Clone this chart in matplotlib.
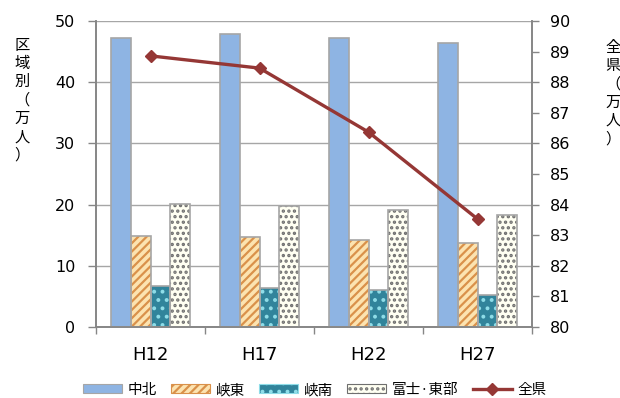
import matplotlib
matplotlib.use("Agg")
import matplotlib.pyplot as plt
from matplotlib.patches import Patch
from matplotlib.lines import Line2D
import numpy as np

categories = ["H12", "H17", "H22", "H27"]
chuhoku = [47.2, 47.9, 47.2, 46.4]
kyoto = [14.9, 14.7, 14.2, 13.7]
kyonan = [6.7, 6.4, 6.0, 5.2]
fuji = [20.1, 19.8, 19.1, 18.3]
zenken = [88.86, 88.46, 86.37, 83.53]
series_names = ["中北", "峡東", "峡南", "富士·東部", "全県"]
left_ticks = [0, 10, 20, 30, 40, 50]
right_ticks = [80, 81, 82, 83, 84, 85, 86, 87, 88, 89, 90]

plt.rcParams['font.family'] = ['DejaVu Sans', 'Noto Sans CJK JP']
plt.rcParams['hatch.linewidth'] = 1.6
JP = ['Noto Sans CJK JP', 'DejaVu Sans']

fig = plt.figure(figsize=(6.2, 3.98), dpi=100)
ax = fig.add_axes([96/620, 1-327/398, (532-96)/620, (327-21)/398])
ax2 = ax.twinx()

x = np.arange(len(categories))
w = 1/5.5
edge = '#A6A6A6'
styles = [
    dict(data=chuhoku, face='#8EB4E3', hatch=None, hc=None),
    dict(data=kyoto, face='#FCE3B0', hatch='////', hc='#D9914A'),
    dict(data=kyonan, face='#31849B', hatch='..', hc='#8FDDE8'),
    dict(data=fuji, face='#FFFFF2', hatch='...', hc='#6F6F6F'),
]
handles = []
for i, s in enumerate(styles):
    pos = x + (i - 1.5) * w
    if s['hatch']:
        ax.bar(pos, s['data'], w, color=s['face'], hatch=s['hatch'],
               edgecolor=s['hc'], linewidth=0, zorder=2)
    else:
        ax.bar(pos, s['data'], w, color=s['face'], linewidth=0, zorder=2)
    ax.bar(pos, s['data'], w, facecolor='none', edgecolor=edge, linewidth=1.2, zorder=3)
    hp = Patch(facecolor=s['face'], edgecolor=s['hc'] if s['hatch'] else edge,
               hatch=s['hatch'], linewidth=0.8)
    handles.append(hp)

ax2.plot(x, zenken, color='#953735', linewidth=2.4, marker='D', markersize=6, zorder=5)
handles.append(Line2D([0], [0], color='#953735', linewidth=2.4, marker='D', markersize=6))

ax.set_xlim(-0.5, 3.5)
ax.set_ylim(0, 50)
ax2.set_ylim(80, 90)
ax.set_yticks(left_ticks)
ax2.set_yticks(right_ticks)
ax.set_xticks(x)
ax.set_xticklabels(categories, fontsize=13)
ax.set_xticks(np.arange(-0.5, 4, 1), minor=True)
ax.tick_params(axis='x', which='major', length=0, pad=14)
ax.tick_params(axis='x', which='minor', length=5, color='#868686', width=1)
ax.tick_params(axis='y', length=6, color='#868686', width=1, labelsize=11.5, pad=9)
ax2.tick_params(axis='y', length=5, color='#868686', width=1, labelsize=11.5, pad=8)

ax.yaxis.grid(True, color='#A6A6A6', linewidth=1)
ax.set_axisbelow(True)
for a in (ax, ax2):
    a.spines['top'].set_visible(False)
    for sp in ('left', 'right', 'bottom'):
        a.spines[sp].set_color('#868686')
        a.spines[sp].set_linewidth(1.2)

fig.text(22/620, 1-100/398, "\n".join("区域別（万人）"), family=JP, fontsize=11,
         ha='center', va='center', linespacing=1.1)
fig.text(613/620, 1-93/398, "\n".join("全県（万人）"), family=JP, fontsize=11,
         ha='center', va='center', linespacing=1.1)

fig.legend(handles, series_names, loc='center', bbox_to_anchor=(0.508, 1-390/398),
           ncol=5, frameon=False, prop={'family': JP, 'size': 10.5},
           handlelength=2.67, handleheight=0.55, handletextpad=0.41, columnspacing=0.95,
           borderpad=0, borderaxespad=0)

fig.savefig("out.png", dpi=100)
